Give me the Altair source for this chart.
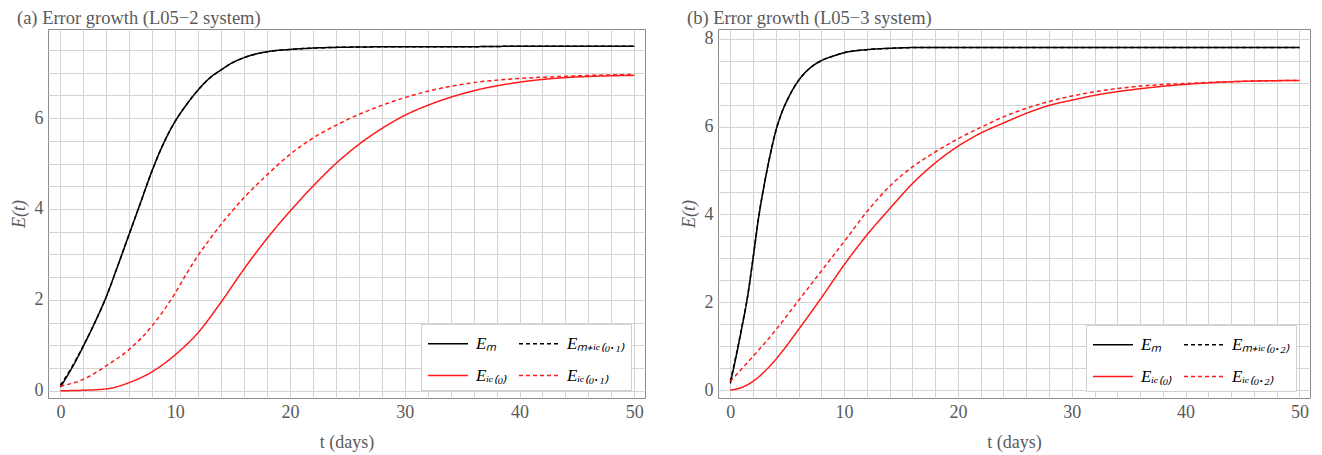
import altair as alt
import pandas as pd

# ---------------- Panel (a): L05-2 system ----------------
a_title = "(a) Error growth (L05\u22122 system)"
a_labels = ["E\u2098", "E\u2098\u208A\u1D62\u2091\u208D\u2080.\u2081\u208E", "E\u1D62\u2091\u208D\u2080\u208E", "E\u1D62\u2091\u208D\u2080.\u2081\u208E"]

a_em_t = [0, 1, 2, 3, 4, 5, 6, 7, 8, 9, 10, 11, 12, 13, 14, 15, 16, 18, 20, 22, 25, 30, 35, 40, 45, 50]
a_em_v = [0.08, 0.5, 0.98, 1.5, 2.07, 2.75, 3.45, 4.15, 4.85, 5.45, 5.93, 6.3, 6.62, 6.88, 7.06, 7.22, 7.33, 7.46, 7.51, 7.54, 7.56, 7.57, 7.57, 7.58, 7.58, 7.58]
a_emie_t = [0, 1, 2, 3, 4, 5, 6, 7, 8, 9, 10, 11, 12, 13, 14, 15, 16, 18, 20, 22, 25, 30, 35, 40, 45, 50]
a_emie_v = [0.12, 0.52, 0.99, 1.5, 2.07, 2.75, 3.45, 4.15, 4.85, 5.45, 5.93, 6.3, 6.62, 6.88, 7.06, 7.22, 7.33, 7.46, 7.51, 7.54, 7.56, 7.57, 7.57, 7.58, 7.58, 7.58]
a_ie0_t = [0, 2, 4, 6, 8, 10, 12, 14, 16, 18, 20, 22, 24, 26, 28, 30, 32, 36, 40, 44, 50]
a_ie0_v = [0.0, 0.01, 0.04, 0.18, 0.42, 0.79, 1.28, 1.95, 2.68, 3.35, 3.95, 4.5, 5.0, 5.42, 5.77, 6.06, 6.28, 6.6, 6.79, 6.89, 6.94]
a_ie1_t = [0, 2, 4, 6, 8, 10, 11, 12, 13, 14, 16, 18, 20, 22, 24, 26, 28, 30, 32, 36, 40, 44, 50]
a_ie1_v = [0.1, 0.25, 0.55, 0.91, 1.43, 2.15, 2.58, 2.98, 3.33, 3.66, 4.25, 4.75, 5.2, 5.56, 5.84, 6.08, 6.28, 6.45, 6.59, 6.78, 6.87, 6.92, 6.96]

# ---------------- Panel (b): L05-3 system ----------------
b_title = "(b) Error growth (L05\u22123 system)"
b_labels = ["E\u2098", "E\u2098\u208A\u1D62\u2091\u208D\u2080.\u2082\u208E", "E\u1D62\u2091\u208D\u2080\u208E", "E\u1D62\u2091\u208D\u2080.\u2082\u208E"]

b_em_t = [0, 0.5, 1, 1.5, 2, 2.5, 3, 3.5, 4, 4.5, 5, 6, 7, 8, 9, 10, 12, 14, 17, 20, 30, 40, 50]
b_em_v = [0.15, 0.75, 1.4, 2.1, 3.0, 3.95, 4.7, 5.35, 5.9, 6.3, 6.6, 7.05, 7.33, 7.5, 7.6, 7.68, 7.75, 7.78, 7.8, 7.8, 7.8, 7.8, 7.8]
b_emie_t = [0, 0.5, 1, 1.5, 2, 2.5, 3, 3.5, 4, 4.5, 5, 6, 7, 8, 9, 10, 12, 14, 17, 20, 30, 40, 50]
b_emie_v = [0.2, 0.78, 1.42, 2.1, 3.0, 3.95, 4.7, 5.35, 5.9, 6.3, 6.6, 7.05, 7.33, 7.5, 7.6, 7.68, 7.75, 7.78, 7.8, 7.8, 7.8, 7.8, 7.8]
b_ie0_t = [0, 1, 2, 3, 4, 6, 8, 10, 12, 14, 16, 18, 20, 22, 24, 26, 28, 30, 32, 36, 40, 44, 50]
b_ie0_v = [0.0, 0.06, 0.2, 0.42, 0.7, 1.38, 2.1, 2.85, 3.53, 4.13, 4.7, 5.17, 5.55, 5.85, 6.08, 6.3, 6.48, 6.6, 6.71, 6.86, 6.96, 7.02, 7.05]
b_ie2_t = [0, 2, 4, 6, 8, 10, 12, 14, 16, 18, 20, 22, 24, 28, 32, 36, 40, 44, 50]
b_ie2_v = [0.2, 0.77, 1.37, 2.04, 2.71, 3.38, 4.06, 4.64, 5.08, 5.42, 5.72, 5.98, 6.22, 6.57, 6.79, 6.92, 6.98, 7.02, 7.05]

x_grid = list(range(0, 51, 2))
y_grid = [i * 0.5 for i in range(0, 17)]

SERIF = "Liberation Serif"
GREY = "#5a5a5a"


def frame(ts, vs, label):
    return pd.DataFrame({"t": ts, "E": vs, "series": label})


def panel(title, labels, series, ydom, width, lx, ly):
    df = pd.concat([frame(t, v, lab) for (t, v), lab in zip(series, labels)], ignore_index=True)
    return (
        alt.Chart(df, title=alt.TitleParams(
            title, anchor="start", frame="group", dx=-31, offset=2,
            font=SERIF, fontSize=18.5, fontWeight="normal", color=GREY))
        .mark_line(strokeWidth=1.5, interpolate="monotone")
        .encode(
            x=alt.X("t:Q", scale=alt.Scale(domain=[-1.08, 50.93], nice=False, zero=False),
                    axis=alt.Axis(title="t (days)", values=x_grid, labelFont=SERIF,
                                  labelExpr="datum.value % 10 === 0 ? format(datum.value, 'd') : ''")),
            y=alt.Y("E:Q", scale=alt.Scale(domain=ydom, nice=False, zero=False),
                    axis=alt.Axis(title="E(t)", values=y_grid, titleFontStyle="italic", labelFont=SERIF,
                                  labelExpr="datum.value % 2 === 0 ? format(datum.value, 'd') : ''")),
            color=alt.Color("series:N", sort=labels,
                            scale=alt.Scale(domain=labels, range=["#000000", "#000000", "#ff1a1a", "#ff1a1a"]),
                            legend=alt.Legend(
                                orient="none", legendX=lx, legendY=ly, title=None,
                                direction="horizontal", columns=2, symbolType="M-1,0H2.2",
                                symbolSize=625, symbolStrokeWidth=1.5,
                                labelFont=SERIF, labelFontSize=17, labelFontStyle="italic",
                                labelColor="#000000", labelLimit=200, labelOffset=22,
                                fillColor="white", strokeColor="#d0d0d0", padding=6,
                                rowPadding=10, columnPadding=8)),
            strokeDash=alt.StrokeDash("series:N", sort=labels,
                                      scale=alt.Scale(domain=labels, range=[[1, 0], [4, 3], [1, 0], [4, 3]]),
                                      legend=None),
            order=alt.Order("t:Q"),
        )
        .properties(width=width, height=369)
    )


pa = panel(a_title, a_labels,
           [(a_em_t, a_em_v), (a_emie_t, a_emie_v), (a_ie0_t, a_ie0_v), (a_ie1_t, a_ie1_v)],
           [-0.16, 7.96], 597, 373, 295)
pb = panel(b_title, b_labels,
           [(b_em_t, b_em_v), (b_emie_t, b_emie_v), (b_ie0_t, b_ie0_v), (b_ie2_t, b_ie2_v)],
           [-0.18, 8.22], 592, 368, 296)

chart = (
    alt.hconcat(pa, pb, spacing=33)
    .resolve_scale(color="independent", strokeDash="independent")
    .properties(padding={"left": 1, "top": 0, "right": 0, "bottom": 0})
    .configure_view(stroke="#8c8c8c", strokeWidth=1)
    .configure_axis(
        domain=False, ticks=False, grid=True, gridColor="#d4d4d4", gridWidth=1,
        labelFont=SERIF, labelFontSize=18, labelColor=GREY, labelPadding=5,
        titleFont=SERIF, titleFontSize=18, titleColor=GREY, titleFontWeight="normal",
    )
    .configure_axisX(titlePadding=12)
    .configure_axisY(titlePadding=6)
)

chart.save("out.html", embed_options={"renderer": "svg", "actions": False})
